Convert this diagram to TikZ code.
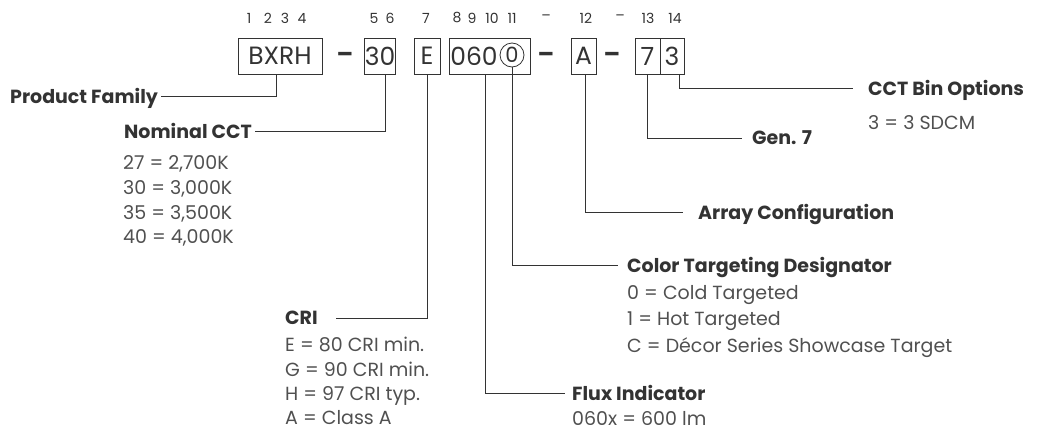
\documentclass[tikz,border=0pt]{standalone}
\usepackage{fontspec}
\setmainfont{Poppins}
\definecolor{inkgray}{HTML}{333333}
\definecolor{textgray}{HTML}{505050}
\tikzset{
  codebox/.style={draw=inkgray, line width=0.8pt, minimum height=36pt, inner sep=0pt,
    text=inkgray, font=\fontsize{25}{25}\selectfont},
  digitnum/.style={text=inkgray, font=\fontsize{14}{14}\selectfont},
  partdash/.style={text=inkgray, font=\fontsize{24}{24}\selectfont\bfseries},
  heading/.style={text=inkgray, font=\fontsize{19}{19}\selectfont\bfseries,
    inner sep=0pt, text depth=0pt},
  option/.style={anchor=west, text=textgray, font=\fontsize{19}{19}\selectfont,
    inner sep=0pt, text depth=0pt},
  leader/.style={draw=inkgray, line width=0.9pt},
}
\begin{document}
\begin{tikzpicture}[x=1pt,y=-1pt]
  \useasboundingbox (0,0) rectangle (1037,434);

  % position numbers
  \foreach \x/\t in {249/1,268/2,285/3,302/4,374/5,390/6,426/7,457/8,472/9,
                     492/10,512/11,546/–,586/12,620/–,648/13,675/14}
    \node[digitnum] (top\x) at (\x,18) {\t};

  % code boxes
  \node[codebox, minimum width=84pt] (bxrh) at (280,56) {BXRH};
  \node[partdash] (sepa) at (345,57) {–};
  \node[codebox, minimum width=28pt] (cct) at (380,56) {30};
  \node[codebox, minimum width=26pt] (cri) at (427,56) {E};
  \node[codebox, minimum width=81pt] (flux) at (489.5,56) {};
  \node[text=inkgray, font=\fontsize{25}{25}\selectfont, inner sep=0pt] (fluxdigits) at (474,56) {060};
  \node[circle, draw=inkgray, line width=0.8pt, minimum size=24pt, inner sep=0pt,
        text=inkgray, font=\fontsize{21}{21}\selectfont] (ctd) at (512,55) {0};
  \node[partdash] (sepb) at (546,57) {–};
  \node[codebox, minimum width=25pt] (arr) at (583.5,56) {A};
  \node[partdash] (sepc) at (612,57) {–};
  \node[codebox, minimum width=25pt] (gen) at (647.5,56) {7};
  \node[codebox, minimum width=24pt] (bin) at (672,56) {3};

  % left side labels
  \node[heading, anchor=west] (family) at (10,96) {Product Family};

  \node[heading, anchor=west] (nominal) at (124,131) {Nominal CCT};
  \foreach \y/\t in {163/{27 = 2,700K},187/{30 = 3,000K},212/{35 = 3,500K},237/{40 = 4,000K}}
    \node[option] at (123,\y) {\t};

  \node[heading, anchor=west] (crilabel) at (285,318) {CRI};
  \foreach \y/\t in {344/{E = 80 CRI min.},369/{G = 90 CRI min.},393/{H = 97 CRI typ.},417/{A = Class A}}
    \node[option] at (285,\y) {\t};

  % right side labels
  \node[heading, anchor=west] (fluxlabel) at (572,393) {Flux Indicator};
  \node[option] at (572,418) {060x = 600 lm};

  \node[heading, anchor=west] (ctdlabel) at (627,265) {Color Targeting Designator};
  \foreach \y/\t in {292/{0 = Cold Targeted},318/{1 = Hot Targeted},345/{C = Décor Series Showcase Target}}
    \node[option] at (627,\y) {\t};

  \node[heading, anchor=west] (arrlabel) at (698,212) {Array Configuration};
  \node[heading, anchor=west] (genlabel) at (752,138) {Gen. 7};
  \node[heading, anchor=west] (binlabel) at (868,88) {CCT Bin Options};
  \node[option] at (868,122) {3 = 3 SDCM};

  % leaders
  \draw[leader] ([xshift=-4pt]bxrh.south) |- ([xshift=3pt]family.east);
  \draw[leader] ([xshift=5pt]cct.south) |- ([xshift=3pt]nominal.east);
  \draw[leader] (cri.south) |- ([xshift=18pt]crilabel.east);
  \draw[leader] ([xshift=-4.5pt]flux.south) |- ([xshift=-7pt]fluxlabel.west);
  \draw[leader] (ctd.south) |- ([xshift=-9pt]ctdlabel.west);
  \draw[leader] ([xshift=1.5pt]arr.south) |- ([xshift=-15pt]arrlabel.west);
  \draw[leader] (gen.south) |- ([xshift=-10pt]genlabel.west);
  \draw[leader] ([xshift=7pt]bin.south) |- ([xshift=-15pt]binlabel.west);
\end{tikzpicture}
\end{document}
